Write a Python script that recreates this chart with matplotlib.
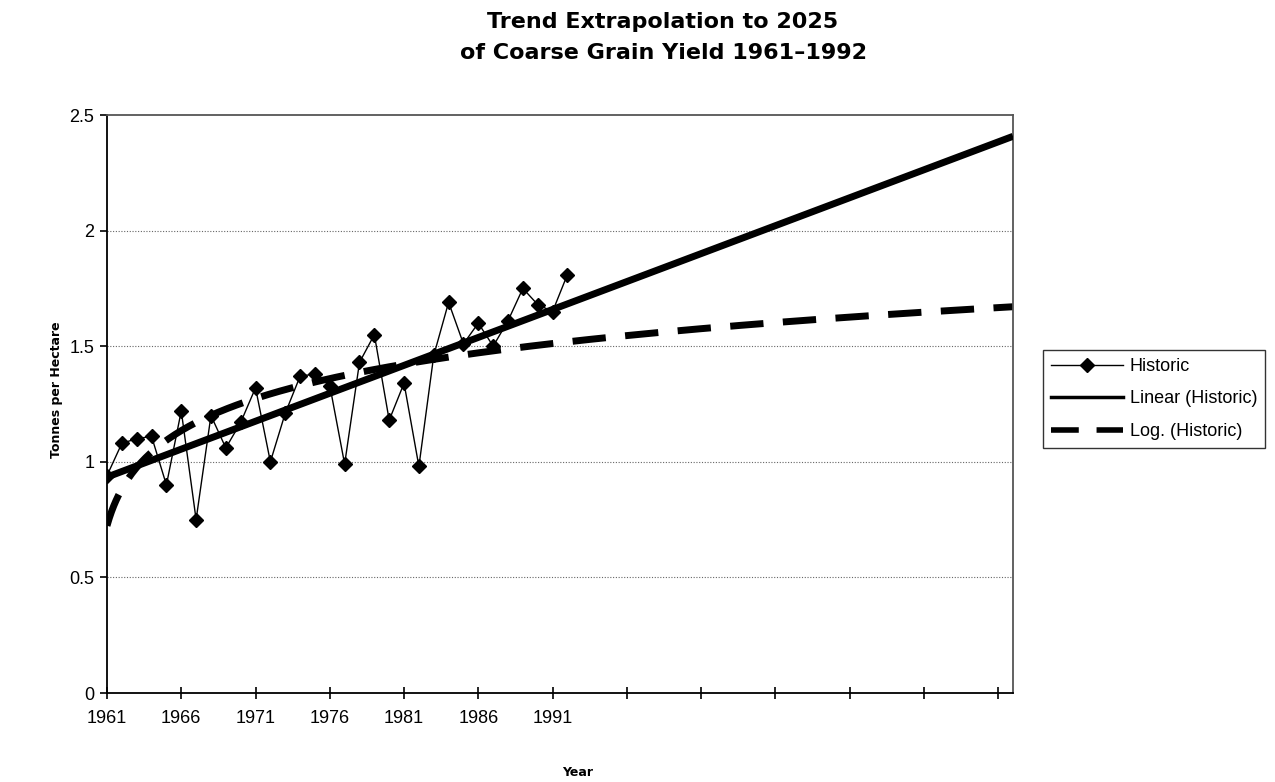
import numpy as np
import matplotlib
matplotlib.use("Agg")
import matplotlib.pyplot as plt
from matplotlib.lines import Line2D

# Coarse grain yield, tonnes per hectare
years = list(range(1961, 1993))
yield_t_ha = [0.94, 1.08, 1.10, 1.11, 0.90, 1.22, 0.75, 1.20, 1.06, 1.17,
              1.32, 1.00, 1.21, 1.37, 1.38, 1.33, 0.99, 1.43, 1.55, 1.18,
              1.34, 0.98, 1.46, 1.69, 1.51, 1.60, 1.50, 1.61, 1.75, 1.68,
              1.65, 1.81]
axis_start, axis_end = 1961, 2022
x_tick_years = list(range(1961, 2022, 5))
x_tick_labels = ["1961", "1966", "1971", "1976", "1981", "1986", "1991",
                 "", "", "", "", "", ""]
y_ticks = [0, 0.5, 1, 1.5, 2, 2.5]
y_tick_labels = ["0", "0.5", "1", "1.5", "2", "2.5"]

# Trendlines fitted on the period index (1 = first year)
idx = np.arange(1, len(years) + 1)
lin_b, lin_a = np.polyfit(idx, yield_t_ha, 1)
log_b, log_a = np.polyfit(np.log(idx), yield_t_ha, 1)
t_ext = np.linspace(1, axis_end - axis_start + 1, 400)
yr_ext = axis_start + t_ext - 1
lin_line = lin_a + lin_b * t_ext
log_line = log_a + log_b * np.log(t_ext)

fig = plt.figure(figsize=(12.75, 7.82), dpi=100)
ax = fig.add_axes([107 / 1275, 1 - 693 / 782, (1013 - 107) / 1275, (693 - 115) / 782])

for yv in [0.5, 1, 1.5, 2]:
    ax.axhline(yv, color="#666666", lw=0.8, ls=(0, (1, 1.5)), zorder=0)

ax.plot(yr_ext, log_line, color="black", lw=5, dashes=(4.8, 2.8),
        solid_capstyle="butt", dash_capstyle="butt", zorder=2)
ax.plot(yr_ext, lin_line, color="black", lw=5, solid_capstyle="butt", zorder=3)
ax.plot(years, yield_t_ha, color="black", lw=1.0, marker="D", markersize=7,
        zorder=4)

ax.set_xlim(axis_start, axis_end)
ax.set_ylim(0, 2.5)
ax.set_xticks(x_tick_years)
ax.set_xticklabels(x_tick_labels)
ax.set_yticks(y_ticks)
ax.set_yticklabels(y_tick_labels)

for lab in ax.get_xticklabels() + ax.get_yticklabels():
    lab.set_fontfamily("Liberation Sans")
    lab.set_fontsize(13)
ax.tick_params(axis="x", direction="inout", length=9, width=1.2, pad=8)
ax.tick_params(axis="y", direction="out", length=5, width=1.2, pad=4)

for side in ["left", "bottom"]:
    ax.spines[side].set_color("black")
    ax.spines[side].set_linewidth(1.3)
for side in ["top", "right"]:
    ax.spines[side].set_color("#555555")
    ax.spines[side].set_linewidth(1.3)

fig.text(663 / 1275, 1 - 22 / 782, "Trend Extrapolation to 2025",
         ha="center", va="center", family="DejaVu Sans", weight="bold", size=16)
fig.text(663 / 1275, 1 - 53 / 782, "of Coarse Grain Yield 1961\u20131992",
         ha="center", va="center", family="DejaVu Sans", weight="bold", size=16)
fig.text(57 / 1275, 1 - 390 / 782, "Tonnes per Hectare", rotation=90,
         ha="center", va="center", family="DejaVu Sans", weight="bold", size=9)
fig.text(578 / 1275, 1 - 773 / 782, "Year",
         ha="center", va="center", family="DejaVu Sans", weight="bold", size=9)

handles = [
    Line2D([], [], color="black", lw=1.0, marker="D", markersize=7),
    Line2D([], [], color="black", lw=2.5),
    Line2D([], [], color="black", lw=4, dashes=(5.0, 3.2), dash_capstyle="butt"),
]
labels = ["Historic", "Linear (Historic)", "Log. (Historic)"]
leg = fig.legend(handles, labels, loc="upper left",
                 bbox_to_anchor=(1043 / 1275, 1 - 350 / 782),
                 prop=dict(family="Liberation Sans", size=13),
                 frameon=True, fancybox=False, shadow=False,
                 handlelength=4.0, handletextpad=0.35, labelspacing=0.85,
                 borderpad=0.45, borderaxespad=0)
leg.get_frame().set_edgecolor("black")
leg.get_frame().set_linewidth(1.0)

fig.savefig("out.png", dpi=100)
